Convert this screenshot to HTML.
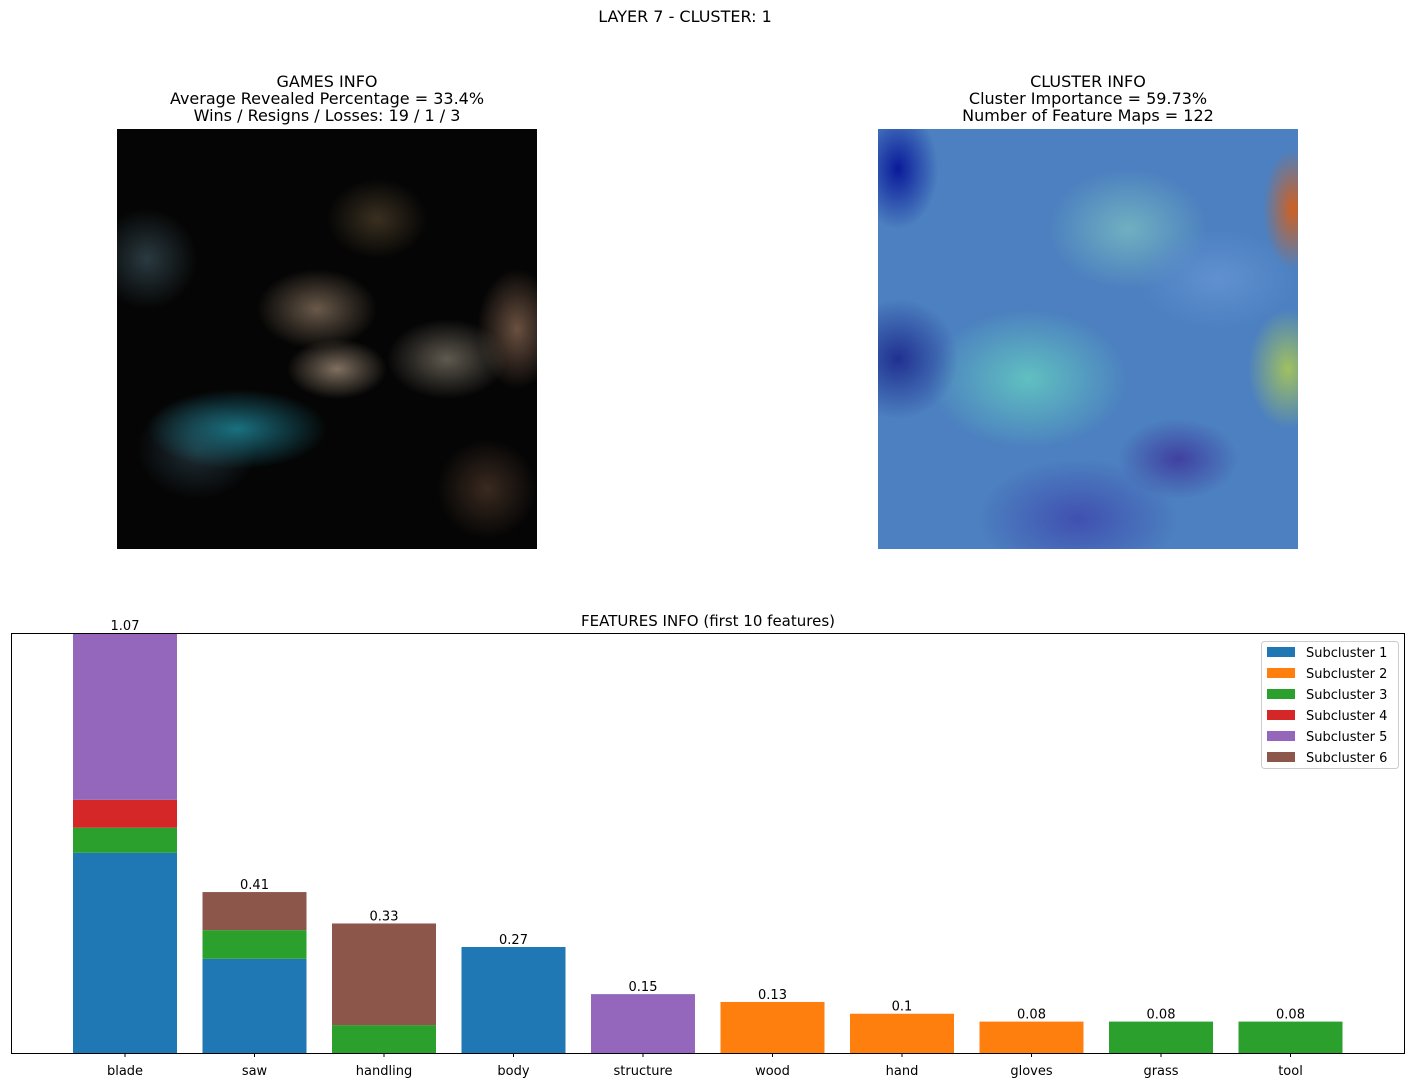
<!DOCTYPE html>
<html><head><meta charset="utf-8"><style>
body{margin:0;background:#fff;font-family:"DejaVu Sans","Liberation Sans",sans-serif;}
#root{position:relative;width:1415px;height:1087px;overflow:hidden;background:#fff}
.t{position:absolute;text-align:center;font-size:16px;color:#000;line-height:17px}
.img{position:absolute;width:420px;height:420px}
</style></head><body>
<div id="root">
<div class="t" style="width:1370px;left:0;top:8px">LAYER 7 - CLUSTER: 1</div>
<div class="t" style="left:77px;width:500px;top:73px">GAMES INFO<br>Average Revealed Percentage = 33.4%<br>Wins / Resigns / Losses: 19 / 1 / 3</div>
<div class="t" style="left:838px;width:500px;top:73px">CLUSTER INFO<br>Cluster Importance = 59.73%<br>Number of Feature Maps = 122</div>
<div class="img" style="left:117px;top:129px;background:
radial-gradient(ellipse 60px 40px at 200px 180px,#6a5a4a,transparent),
radial-gradient(ellipse 90px 40px at 120px 300px,#1a7080,transparent),
radial-gradient(ellipse 60px 50px at 80px 320px,#203038,transparent),
radial-gradient(ellipse 60px 40px at 330px 230px,#605a50,transparent),
radial-gradient(ellipse 40px 60px at 400px 200px,#6a5040,transparent),
radial-gradient(ellipse 50px 40px at 260px 90px,#3a3020,transparent),
radial-gradient(ellipse 50px 50px at 30px 130px,#2a3a40,transparent),
radial-gradient(ellipse 50px 30px at 220px 240px,#807060,transparent),
radial-gradient(ellipse 50px 50px at 370px 360px,#3a2a20,transparent),
#050505"></div>
<div class="img" style="left:878px;top:129px;background:
radial-gradient(ellipse 40px 60px at 20px 40px,#0a1a9a,transparent),
radial-gradient(ellipse 30px 60px at 415px 80px,#d06020,transparent),
radial-gradient(ellipse 40px 60px at 410px 240px,#a0c060,transparent),
radial-gradient(ellipse 60px 60px at 20px 230px,#203090,transparent),
radial-gradient(ellipse 80px 50px at 340px 150px,#6090d0,transparent),
radial-gradient(ellipse 60px 40px at 300px 330px,#4040a0,transparent),
radial-gradient(ellipse 100px 60px at 200px 390px,#4050b0,transparent),
radial-gradient(ellipse 100px 70px at 150px 250px,#60c0c0,transparent),
radial-gradient(ellipse 80px 60px at 250px 100px,#70b0c0,transparent),
#4c80c0"></div>
<svg id="chart" width="1415" height="1087" style="position:absolute;left:0;top:0"></svg>
</div>
<script>
const categories=["blade","saw","handling","body","structure","wood","hand","gloves","grass","tool"];
const seriesNames=["Subcluster 1","Subcluster 2","Subcluster 3","Subcluster 4","Subcluster 5","Subcluster 6"];
const colors=["#1f77b4","#ff7f0e","#2ca02c","#d62728","#9467bd","#8c564b"];
const s1=[0.51,0.24,0,0.27,0,0,0,0,0,0];
const s2=[0,0,0,0,0,0.13,0.1,0.08,0,0];
const s3=[0.064,0.073,0.071,0,0,0,0,0,0.08,0.08];
const s4=[0.071,0,0,0,0,0,0,0,0,0];
const s5=[0.425,0,0,0,0.15,0,0,0,0,0];
const s6=[0,0.097,0.259,0,0,0,0,0,0,0];
const totalLabels=["1.07","0.41","0.33","0.27","0.15","0.13","0.1","0.08","0.08","0.08"];
const series=[s1,s2,s3,s4,s5,s6];
const L=11,R=1405,T=633,B=1053;
const ns="http://www.w3.org/2000/svg";
const svg=document.getElementById('chart');
const totals=categories.map((c,i)=>series.reduce((a,s)=>a+s[i],0));
const ymax=Math.max(...totals);
const y=v=>B-(v/ymax)*(B-T);
const x=i=>L+114+i*129.5;
const bw=104;
const FF='DejaVu Sans, Liberation Sans, sans-serif';
function mk(tag,attrs){const e=document.createElementNS(ns,tag);for(const k in attrs)e.setAttribute(k,attrs[k]);svg.appendChild(e);return e;}
function txt(s,xx,yy,anchor,size){const e=mk('text',{x:xx,y:yy,'text-anchor':anchor,'font-size':size,'font-family':FF});e.textContent=s;return e;}
categories.forEach((c,i)=>{
  let base=0;
  series.forEach((s,k)=>{
    if(s[i]<=0)return;
    const r=mk('rect',{x:x(i)-bw/2,y:y(base+s[i]),width:bw,height:y(base)-y(base+s[i]),fill:colors[k]});
    
    
    base+=s[i];
  });
  const lb=txt(totalLabels[i],x(i),y(totals[i])-3,'middle',13);
  
  
  mk('line',{x1:x(i),x2:x(i),y1:B,y2:B+4,stroke:'#000'});
  const tl=txt(c,x(i),B+22,'middle',13);
  
  
});
const frame=mk('rect',{x:L+0.5,y:T+0.5,width:R-L-1,height:B-T,fill:'none',stroke:'#000'});


const ct=txt('FEATURES INFO (first 10 features)',(L+R)/2,626,'middle',15);


const lg=mk('rect',{x:1261.5,y:641.5,width:137,height:127,fill:'#fff',stroke:'#ccc',rx:3});


seriesNames.forEach((n,k)=>{
  const yy=652+k*21;
  const sw=mk('rect',{x:1267,y:yy-5,width:28,height:10,fill:colors[k]});
  
  
  const t=txt(n,1306,yy+5,'start',13);
  
  
});
</script>
</body></html>
